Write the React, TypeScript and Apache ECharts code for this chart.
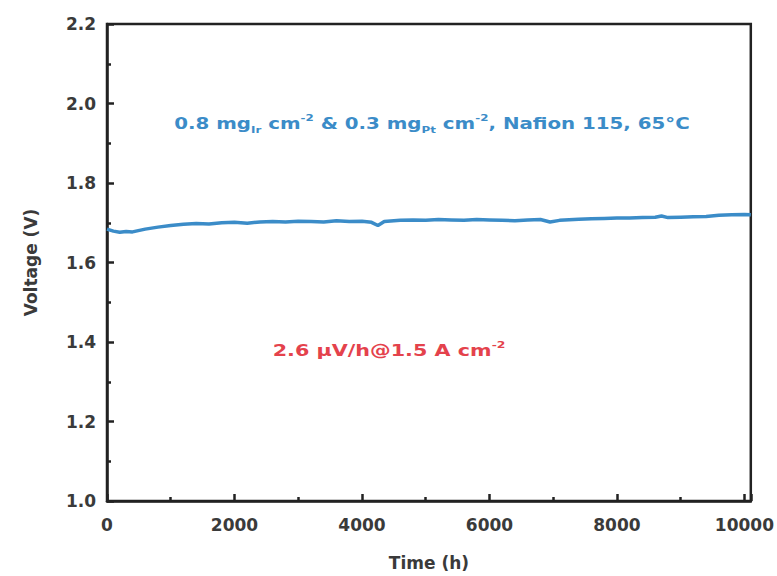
import React, { useEffect, useRef } from "react";
import * as echarts from "echarts";

const timeH = [
  0, 100, 200, 300, 400, 600, 800, 1000, 1200, 1400, 1600, 1800, 2000, 2200, 2400, 2600, 2800, 3000,
  3200, 3400, 3600, 3800, 4000, 4150, 4250, 4350, 4600, 4800, 5000, 5200, 5400, 5600, 5800, 6000,
  6200, 6400, 6600, 6800, 6950, 7100, 7400, 7600, 7800, 8000, 8200, 8400, 8600, 8700, 8800, 9000,
  9200, 9400, 9600, 9800, 10000, 10100,
];
const voltage = [
  1.684, 1.679, 1.676, 1.678, 1.677, 1.684, 1.689, 1.693, 1.696, 1.698, 1.697, 1.7, 1.701, 1.699,
  1.702, 1.703, 1.702, 1.704, 1.703, 1.702, 1.705, 1.703, 1.704, 1.701, 1.693, 1.703, 1.706, 1.707,
  1.706, 1.708, 1.707, 1.706, 1.708, 1.707, 1.706, 1.705, 1.707, 1.708, 1.702, 1.706, 1.709, 1.71,
  1.711, 1.712, 1.712, 1.713, 1.714, 1.717, 1.713, 1.714, 1.715, 1.716, 1.719, 1.72, 1.721, 1.72,
];

const xTickStep = 2000;
const yTicks = [1.0, 1.2, 1.4, 1.6, 1.8, 2.0, 2.2];

export default function App() {
  const ref = useRef<HTMLDivElement>(null);
  useEffect(() => {
    if (!ref.current) return;
    document.body.style.margin = "0";
    document.body.style.overflow = "hidden";
    const chart = echarts.init(ref.current, undefined, { renderer: "svg" });
    const font = "DejaVu Sans, Verdana, sans-serif";
    const labelStyle = { color: "#3a3a3a", fontWeight: "bold" as const, fontSize: 17, fontFamily: font };
    const blue = "#3b8cc8";
    const red = "#e4424c";
    const noteRich = (color: string) => ({
      n: { fill: color, fontSize: 15, fontWeight: "bold", fontFamily: font },
      sub: { fill: color, fontSize: 9, fontWeight: "bold", fontFamily: font, padding: [12, 0, 0, 0] },
      sup: { fill: color, fontSize: 9, fontWeight: "bold", fontFamily: font, padding: [0, 0, 12, 0] },
    });
    const tickLine = { color: "#222", width: 2.5 };
    chart.setOption({
      animation: false,
      backgroundColor: "#fff",
      grid: {
        left: 107,
        top: 24,
        width: 645,
        height: 480,
        show: true,
        borderColor: "#222",
        borderWidth: 2.5,
        backgroundColor: "transparent",
      },
      xAxis: {
        type: "value",
        min: 0,
        max: 10100,
        interval: xTickStep,
        name: "Time (h)",
        nameLocation: "middle",
        nameGap: 53,
        nameTextStyle: { ...labelStyle, fontSize: 17 },
        axisLine: { show: true, lineStyle: { color: "#222", width: 2.5 } },
        axisTick: { show: true, inside: true, length: 7, lineStyle: tickLine },
        minorTick: { show: true, splitNumber: 2, length: 4, lineStyle: tickLine },
        axisLabel: {
          ...labelStyle,
          fontSize: 17,
          margin: 15,
          showMaxLabel: false,
          formatter: (v: number) => String(Math.round(v)),
        },
        splitLine: { show: false },
      },
      yAxis: {
        type: "value",
        min: 1.0,
        max: 2.2,
        interval: 0.2,
        name: "Voltage (V)",
        nameLocation: "middle",
        nameGap: 68,
        nameRotate: 90,
        nameTextStyle: { ...labelStyle, fontSize: 17 },
        axisLine: { show: true, lineStyle: { color: "#222", width: 2.5 } },
        axisTick: { show: true, inside: true, length: 7, lineStyle: tickLine },
        minorTick: { show: true, splitNumber: 2, length: 4, lineStyle: tickLine },
        axisLabel: {
          ...labelStyle,
          margin: 11,
          formatter: (v: number) => {
            const t = yTicks.find((y) => Math.abs(y - v) < 1e-6);
            return t !== undefined ? t.toFixed(1) : "";
          },
        },
        splitLine: { show: false },
      },
      series: [
        {
          type: "line",
          data: timeH.map((t, i) => [t, voltage[i]]),
          showSymbol: false,
          lineStyle: { color: blue, width: 3.5 },
          clip: true,
        },
      ],
      graphic: [
        {
          type: "text",
          x: 432,
          y: 124,
          scaleX: 1.32,
          style: {
            text: "{n|0.8 mg}{sub|Ir}{n| cm}{sup|-2}{n| & 0.3 mg}{sub|Pt}{n| cm}{sup|-2}{n|, Nafion 115, 65°C}",
            rich: noteRich(blue),
            align: "center",
            verticalAlign: "middle",
          },
        },
        {
          type: "text",
          x: 389,
          y: 351,
          scaleX: 1.38,
          style: {
            text: "{n|2.6 μV/h@1.5 A cm}{sup|-2}",
            rich: noteRich(red),
            align: "center",
            verticalAlign: "middle",
          },
        },
      ],
    });
    return () => chart.dispose();
  }, []);
  return <div ref={ref} style={{ width: 777, height: 576, overflow: "hidden" }} />;
}
